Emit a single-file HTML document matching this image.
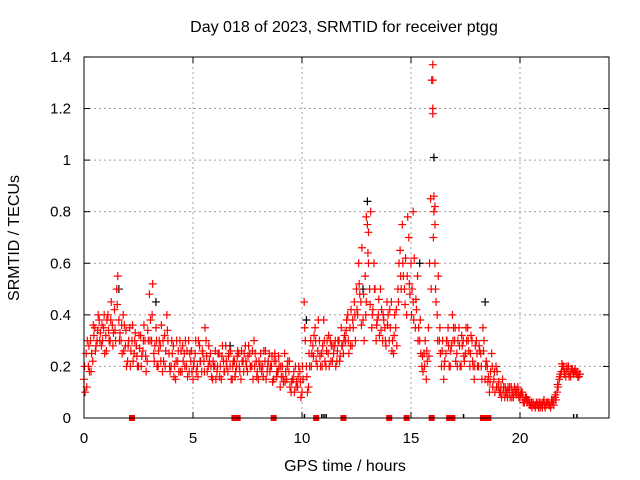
<!DOCTYPE html>
<html><head><meta charset="utf-8"><style>
body{margin:0;background:#fff;}
svg{display:block;font-family:"Liberation Sans",sans-serif;}
</style></head><body>
<svg id="chart" width="640" height="480">
<text x="344" y="32" font-size="16" text-anchor="middle">Day 018 of 2023, SRMTID for receiver ptgg</text>
<text x="345" y="471" font-size="16" text-anchor="middle">GPS time / hours</text>
<text x="19" y="238" font-size="16" text-anchor="middle" transform="rotate(-90 19 238)">SRMTID / TECUs</text>
<g id="grid"></g>
<g id="ticks"></g>
<g id="marks"></g>
<rect x="84" y="57" width="525" height="361" fill="none" stroke="#000" stroke-width="1"/>
</svg>
<script>
const xTicks=[0,5,10,15,20];
const yTicks=[0,0.2,0.4,0.6,0.8,1,1.2,1.4];
const yTickLabels=["0","0.2","0.4","0.6","0.8","1","1.2","1.4"];
const redValues=[0.15,0.25,0.2,0.3,0.22,0.35,0.3,0.38,0.28,0.35,0.32,0.4,0.3,0.36,0.42,0.5,0.38,0.3,0.4,0.28,
0.22,0.35,0.3,0.25,0.28,0.2,0.32,0.26,0.3,0.22,0.48,0.3,0.25,0.35,0.2,0.28,0.18,0.32,0.4,0.25,
0.2,0.28,0.15,0.22,0.3,0.18,0.25,0.2,0.3,0.22,0.15,0.25,0.2,0.28,0.18,0.22,0.3,0.2,0.25,0.15,
0.2,0.18,0.25,0.15,0.22,0.28,0.18,0.2,0.15,0.22,0.2,0.25,0.15,0.22,0.28,0.18,0.25,0.2,0.3,0.22,
0.15,0.25,0.2,0.22,0.18,0.25,0.2,0.15,0.22,0.18,0.12,0.2,0.25,0.15,0.18,0.1,0.15,0.2,0.12,0.18,
0.1,0.45,0.2,0.12,0.3,0.28,0.35,0.2,0.3,0.25,0.38,0.2,0.25,0.3,0.22,0.28,0.22,0.3,0.35,0.25,
0.3,0.4,0.35,0.28,0.45,0.5,0.6,0.45,0.38,0.55,0.75,0.5,0.35,0.6,0.3,0.4,0.5,0.3,0.35,0.45,
0.3,0.45,0.25,0.35,0.5,0.65,0.75,0.5,0.4,0.7,0.6,0.45,0.35,0.55,0.3,0.2,0.25,0.15,0.35,0.85,
1.2,0.6,0.4,0.3,0.2,0.15,0.25,0.35,0.2,0.4,0.3,0.25,0.35,0.2,0.3,0.25,0.35,0.2,0.3,0.15,
0.3,0.2,0.25,0.35,0.15,0.2,0.1,0.25,0.15,0.2,0.12,0.1,0.15,0.08,0.1,0.1,0.12,0.08,0.1,0.12,
0.08,0.1,0.06,0.08,0.07,0.05,0.06,0.04,0.05,0.06,0.05,0.07,0.05,0.06,0.04,0.06,0.08,0.1,0.15,0.18,
0.2,0.16,0.18,0.17,0.19,0.18,0.17,0.16];
const redValues2=[0.1,0.3,0.18,0.25,0.32,0.28,0.4,0.33,0.3,0.25,0.38,0.3,0.45,0.33,0.3,0.55,0.33,0.25,0.36,0.2,
0.3,0.26,0.22,0.33,0.2,0.27,0.24,0.36,0.18,0.3,0.38,0.52,0.28,0.2,0.3,0.36,0.22,0.26,0.3,0.18,
0.25,0.2,0.3,0.18,0.26,0.22,0.3,0.16,0.25,0.18,0.22,0.18,0.3,0.22,0.25,0.35,0.18,0.22,0.16,0.2,
0.15,0.25,0.2,0.28,0.18,0.2,0.25,0.15,0.22,0.18,0.26,0.18,0.22,0.25,0.2,0.28,0.2,0.15,0.25,0.18,
0.2,0.18,0.26,0.15,0.22,0.2,0.14,0.25,0.18,0.2,0.16,0.14,0.18,0.22,0.12,0.15,0.1,0.14,0.2,0.08,
0.15,0.3,0.1,0.2,0.25,0.32,0.22,0.38,0.2,0.28,0.22,0.3,0.2,0.28,0.25,0.2,0.3,0.24,0.28,0.32,
0.38,0.25,0.42,0.35,0.3,0.4,0.48,0.66,0.3,0.45,0.6,0.8,0.42,0.5,0.38,0.32,0.42,0.38,0.28,0.4,
0.35,0.3,0.4,0.28,0.6,0.5,0.55,0.62,0.78,0.48,0.5,0.62,0.42,0.35,0.25,0.18,0.3,0.22,0.6,1.31,
0.8,0.45,0.55,0.25,0.3,0.22,0.3,0.2,0.28,0.35,0.22,0.3,0.2,0.28,0.22,0.3,0.26,0.32,0.2,0.28,
0.2,0.26,0.15,0.3,0.22,0.16,0.18,0.12,0.1,0.18,0.1,0.08,0.12,0.1,0.12,0.08,0.1,0.12,0.09,0.08,
0.1,0.06,0.08,0.07,0.05,0.04,0.05,0.06,0.04,0.05,0.06,0.04,0.06,0.05,0.07,0.05,0.07,0.12,0.17,0.2,
0.18,0.2,0.16,0.19,0.17,0.18,0.16,0.17];
const redValues3=[0.2,0.12,0.28,0.18,0.36,0.26,0.34,0.3,0.36,0.4,0.26,0.34,0.38,0.28,0.34,0.44,0.3,0.36,0.26,0.34,
0.28,0.2,0.36,0.3,0.24,0.32,0.2,0.3,0.24,0.34,0.3,0.4,0.22,0.3,0.26,0.22,0.3,0.2,0.34,0.2,
0.3,0.16,0.22,0.26,0.18,0.28,0.2,0.26,0.18,0.26,0.2,0.3,0.16,0.22,0.26,0.18,0.24,0.28,0.2,0.22,
0.26,0.2,0.16,0.24,0.18,0.22,0.24,0.26,0.2,0.16,0.24,0.2,0.26,0.18,0.22,0.24,0.2,0.26,0.2,0.16,
0.22,0.2,0.16,0.26,0.2,0.18,0.24,0.22,0.16,0.24,0.2,0.16,0.14,0.2,0.22,0.14,0.18,0.12,0.16,0.14,
0.2,0.35,0.16,0.25,0.2,0.24,0.3,0.26,0.24,0.2,0.3,0.26,0.32,0.22,0.28,0.3,0.26,0.22,0.28,0.3,
0.34,0.3,0.28,0.38,0.4,0.42,0.52,0.36,0.48,0.4,0.64,0.44,0.4,0.5,0.36,0.46,0.34,0.4,0.3,0.36,
0.42,0.26,0.32,0.42,0.45,0.55,0.6,0.44,0.55,0.52,0.4,0.38,0.46,0.3,0.38,0.24,0.2,0.26,0.24,0.5,
0.7,0.5,0.3,0.35,0.26,0.2,0.3,0.28,0.26,0.3,0.35,0.2,0.28,0.32,0.24,0.35,0.3,0.25,0.22,0.2,
0.25,0.28,0.2,0.26,0.2,0.14,0.14,0.2,0.18,0.12,0.14,0.12,0.1,0.12,0.08,0.12,0.08,0.1,0.11,0.1,
0.09,0.08,0.07,0.06,0.06,0.06,0.05,0.05,0.06,0.04,0.04,0.05,0.06,0.05,0.05,0.07,0.09,0.13,0.16,0.21,
0.17,0.19,0.2,0.16,0.18,0.19,0.18,0.17];
const outlierTimes=[16.0,16.0,16.0,16.05,16.1,16.1,12.95,13.05,15.1];
const outlierValues=[1.37,1.31,1.18,0.86,0.82,0.75,0.78,0.72,0.8];
const blackTimes=[16.05,13.0,18.4,10.2,1.6,3.3,6.7,12.8,15.4];
const blackValues=[1.01,0.84,0.45,0.38,0.5,0.45,0.28,0.5,0.6];
const redGapTimes=[2.2,6.9,7.05,8.7,10.65,11.9,14.0,14.8,15.95,16.75,16.9,18.3,18.45,18.55];
const blackGapTimes=[10.1,10.9,11.0,11.1,17.4,22.45,22.6];
const X=t=>84+t*21.8, Y=v=>418-v*257.9;
const ns="http://www.w3.org/2000/svg";
function mk(tag,attrs,parent){const e=document.createElementNS(ns,tag);for(const k in attrs)e.setAttribute(k,attrs[k]);parent.appendChild(e);return e;}
const grid=document.getElementById('grid'),ticks=document.getElementById('ticks'),marks=document.getElementById('marks');
xTicks.forEach(t=>{
 if(t>0){const l=mk('line',{x1:X(t),x2:X(t),y1:57,y2:418,stroke:'#a0a0a0','stroke-dasharray':'2,3'},grid);
 
 }
 mk('line',{x1:X(t),x2:X(t),y1:418,y2:412,stroke:'#000'},ticks);
 mk('line',{x1:X(t),x2:X(t),y1:57,y2:63,stroke:'#000'},ticks);
 const tx=mk('text',{x:X(t),y:443,'font-size':15,'text-anchor':'middle'},ticks);tx.textContent=t;
 
 
});
yTicks.forEach((v,i)=>{
 if(v>0&&v<1.4){const l=mk('line',{x1:84,x2:609,y1:Y(v),y2:Y(v),stroke:'#a0a0a0','stroke-dasharray':'2,3'},grid);
 
 }
 mk('line',{x1:84,x2:90,y1:Y(v),y2:Y(v),stroke:'#000'},ticks);
 mk('line',{x1:609,x2:603,y1:Y(v),y2:Y(v),stroke:'#000'},ticks);
 const tx=mk('text',{x:71,y:Y(v)+5,'font-size':15,'text-anchor':'end'},ticks);tx.textContent=yTickLabels[i];
 
 
});
function plus(t,v,c){const g=mk('path',{d:`M${X(t)-4},${Y(v)}h8M${X(t)},${Y(v)-4}v8`,stroke:c,'stroke-width':1.2,fill:'none'},marks);
 
 }
blackTimes.forEach((t,i)=>plus(t,blackValues[i],'#000'));
redValues.forEach((v,i)=>plus(i*0.1,v,'#ff0000'));
redValues2.forEach((v,i)=>plus(i*0.1+0.05,v,'#ff0000'));
redValues3.forEach((v,i)=>plus(i*0.1+0.025,v,'#ff0000'));
outlierTimes.forEach((t,i)=>plus(t,outlierValues[i],'#ff0000'));
blackGapTimes.forEach(t=>{const r=mk('rect',{x:X(t)-0.5,y:414,width:1.5,height:4,fill:'#000'},marks);
 
 });
redGapTimes.forEach(t=>{const r=mk('rect',{x:X(t)-3,y:415,width:6,height:6,fill:'#ff0000'},marks);
 
 });
</script>
</body></html>
